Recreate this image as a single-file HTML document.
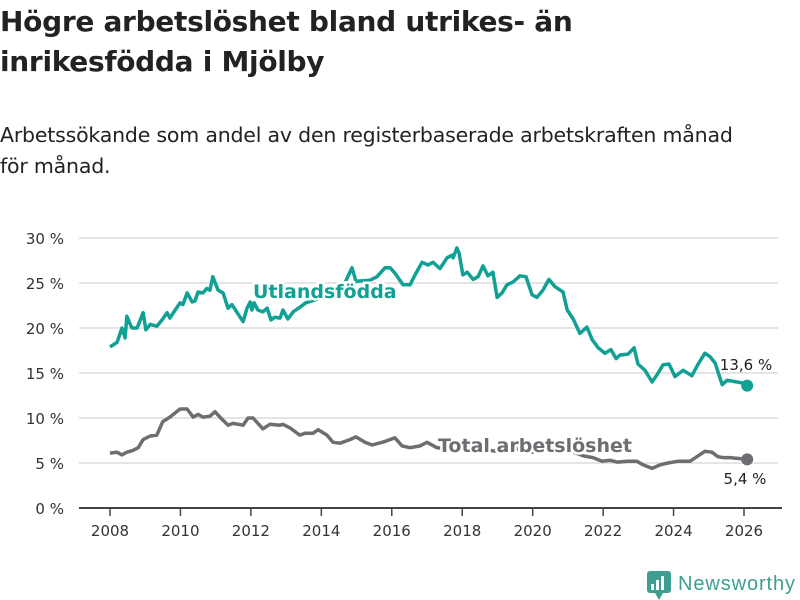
<!DOCTYPE html>
<html><head><meta charset="utf-8"><style>
body{margin:0;background:#fff;width:800px;height:600px;overflow:hidden;font-family:"Open Sans","Liberation Sans","DejaVu Sans",sans-serif;}
h1{position:absolute;left:0;top:2px;margin:0;font-size:28px;line-height:40px;font-weight:bold;color:#222;width:640px;font-family:"DejaVu Sans","Liberation Sans",sans-serif;letter-spacing:-0.3px}
p{position:absolute;left:0;top:120px;margin:0;font-size:20.5px;line-height:31px;color:#222;width:760px;font-family:"DejaVu Sans","Liberation Sans",sans-serif;letter-spacing:-0.2px}
svg{position:absolute;left:0;top:0}
</style></head><body>
<h1>Högre arbetslöshet bland utrikes- än inrikesfödda i Mjölby</h1>
<p>Arbetssökande som andel av den registerbaserade arbetskraften månad för månad.</p>
<svg id="chart" width="800" height="600" font-family="DejaVu Sans, Liberation Sans, sans-serif"></svg>
<script>
const yTicks=[0,5,10,15,20,25,30];
const xTicks=[2008,2010,2012,2014,2016,2018,2020,2022,2024,2026];
const foreignYears=[2008.00,2008.20,2008.34,2008.43,2008.48,2008.62,2008.77,2008.94,2009.02,2009.14,2009.33,2009.48,2009.62,2009.70,2009.85,2009.99,2010.07,2010.19,2010.33,2010.41,2010.50,2010.64,2010.75,2010.84,2010.92,2011.07,2011.21,2011.35,2011.46,2011.61,2011.78,2011.89,2011.98,2012.03,2012.09,2012.20,2012.34,2012.46,2012.57,2012.68,2012.83,2012.91,2013.05,2013.20,2013.39,2013.56,2013.96,2014.39,2014.67,2014.87,2014.98,2015.38,2015.58,2015.81,2015.95,2016.09,2016.32,2016.52,2016.66,2016.86,2017.03,2017.17,2017.37,2017.57,2017.71,2017.74,2017.85,2017.91,2018.02,2018.14,2018.31,2018.45,2018.59,2018.73,2018.87,2018.99,2019.13,2019.27,2019.44,2019.64,2019.81,2019.98,2020.12,2020.29,2020.46,2020.63,2020.86,2020.98,2021.15,2021.34,2021.54,2021.69,2021.86,2022.05,2022.22,2022.37,2022.48,2022.71,2022.88,2022.99,2023.19,2023.39,2023.53,2023.70,2023.87,2024.04,2024.27,2024.52,2024.70,2024.89,2025.04,2025.18,2025.38,2025.52,2025.80,2025.94,2026.09];
const foreignValues=[17.9,18.4,20.0,18.9,21.3,20.0,20.0,21.7,19.8,20.4,20.2,20.9,21.7,21.1,22.0,22.8,22.6,23.9,22.9,23.0,24.0,23.9,24.4,24.2,25.7,24.2,23.9,22.2,22.6,21.7,20.7,22.2,22.9,22.0,22.8,22.0,21.8,22.2,20.9,21.2,21.1,22.0,21.0,21.8,22.3,22.8,23.3,24.3,25.0,26.7,25.2,25.3,25.7,26.7,26.7,26.1,24.8,24.8,25.9,27.3,27.0,27.3,26.6,27.8,28.1,27.8,28.9,28.3,25.9,26.2,25.4,25.7,26.9,25.8,26.2,23.4,23.9,24.8,25.1,25.8,25.7,23.7,23.4,24.2,25.4,24.6,24.0,22.0,21.0,19.4,20.1,18.7,17.8,17.2,17.6,16.6,17.0,17.1,17.8,16.0,15.3,14.0,14.8,15.9,16.0,14.6,15.3,14.7,16.0,17.2,16.8,16.1,13.7,14.2,14.0,13.9,13.6];
const totalYears=[2008.00,2008.20,2008.34,2008.48,2008.65,2008.80,2008.94,2009.14,2009.33,2009.50,2009.70,2009.99,2010.19,2010.36,2010.50,2010.64,2010.84,2010.98,2011.12,2011.35,2011.49,2011.78,2011.92,2012.06,2012.34,2012.54,2012.83,2012.91,2013.11,2013.39,2013.54,2013.76,2013.91,2014.16,2014.33,2014.53,2014.81,2014.98,2015.24,2015.44,2015.81,2016.09,2016.29,2016.52,2016.80,2017.00,2017.28,2017.60,2018.00,2018.50,2019.00,2019.50,2020.00,2020.40,2020.90,2021.43,2021.71,2021.97,2022.20,2022.40,2022.68,2022.96,2023.13,2023.39,2023.62,2023.84,2024.13,2024.47,2024.70,2024.89,2025.09,2025.26,2025.41,2025.60,2026.09];
const totalValues=[6.1,6.2,5.9,6.2,6.4,6.7,7.6,8.0,8.1,9.6,10.1,11.0,11.0,10.1,10.4,10.1,10.2,10.7,10.1,9.2,9.4,9.2,10.0,10.0,8.8,9.3,9.2,9.3,8.9,8.1,8.3,8.3,8.7,8.1,7.3,7.2,7.6,7.9,7.3,7.0,7.4,7.8,6.9,6.7,6.9,7.3,6.7,6.6,6.8,6.5,6.3,6.6,6.2,7.0,6.6,5.8,5.6,5.2,5.3,5.1,5.2,5.2,4.8,4.4,4.8,5.0,5.2,5.2,5.8,6.3,6.2,5.7,5.6,5.6,5.4];
const NS='http://www.w3.org/2000/svg';
const svg=document.getElementById('chart');
const X=y=>110+(y-2008)*(634/18);
const Y=v=>508-v*9;
function mk(t,a,txt){const e=document.createElementNS(NS,t);for(const k in a)e.setAttribute(k,a[k]);if(txt!=null)e.textContent=txt;svg.appendChild(e);return e;}
yTicks.forEach(v=>{
  if(v>0){const g=mk('line',{x1:79,x2:778,y1:Y(v),y2:Y(v),stroke:'#dcdcdc','stroke-width':1.5});
  
  }
  const t=mk('text',{x:64,y:Y(v)+6,'text-anchor':'end','font-size':15,fill:'#333'},v+' %');
  
  
});
const ax=mk('line',{x1:79,x2:782,y1:508,y2:508,stroke:'#444','stroke-width':2});


xTicks.forEach(y=>{
  const tk=mk('line',{x1:X(y),x2:X(y),y1:508,y2:516,stroke:'#444','stroke-width':1.5});
  
  
  const t=mk('text',{x:X(y),y:536,'text-anchor':'middle','font-size':15,fill:'#333'},String(y));
  
  
});
function line(xs,vs,col,name){
  const d=xs.map((x,i)=>(i?'L':'M')+X(x).toFixed(1)+','+Y(vs[i]).toFixed(1)).join('');
  const p=mk('path',{d:d,fill:'none',stroke:col,'stroke-width':3.5,'stroke-linejoin':'round'});
  
  
  const n=xs.length-1;
  const c=mk('circle',{cx:X(xs[n]),cy:Y(vs[n]),r:6,fill:col});
  
  
}
line(totalYears,totalValues,'#6d6d72','total-line');
line(foreignYears,foreignValues,'#12a095','foreign-born-line');
const l1=mk('text',{x:253,y:298,'font-size':19,'font-weight':'bold',fill:'#12a095',stroke:'#fff','stroke-width':5,'paint-order':'stroke'},'Utlandsfödda');


const l2=mk('text',{x:438,y:452,'font-size':19,'font-weight':'bold',fill:'#6d6d72',stroke:'#fff','stroke-width':5,'paint-order':'stroke'},'Total arbetslöshet');


const fl=foreignValues.length-1, tl=totalValues.length-1;
const v1=mk('text',{x:746,y:370,'text-anchor':'middle','font-size':15,fill:'#222'},foreignValues[fl].toFixed(1).replace('.',',')+' %');


const v2=mk('text',{x:745,y:484,'text-anchor':'middle','font-size':15,fill:'#222'},totalValues[tl].toFixed(1).replace('.',',')+' %');


</script>
<svg width="800" height="600" style="pointer-events:none">
<rect x="647" y="571" width="24" height="22" rx="3" fill="#3e9e92"/>
<path d="M655 593 L659 600 L663 593Z" fill="#3e9e92"/>
<rect x="651" y="584" width="3" height="6" fill="#fff"/><rect x="656" y="580" width="3" height="10" fill="#fff"/><rect x="661" y="576" width="3" height="14" fill="#fff"/>
<text x="678" y="590" font-size="20" fill="#3e9e92" font-family="Liberation Sans Narrow, Liberation Sans, sans-serif" textLength="117">Newsworthy</text>
</svg>
</body></html>
